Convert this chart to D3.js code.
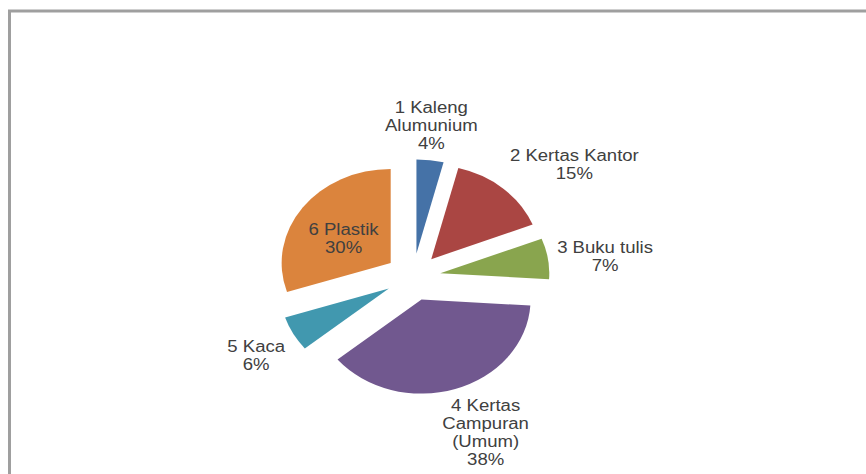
<!DOCTYPE html>
<html>
<head>
<meta charset="utf-8">
<script src="https://cdn.jsdelivr.net/npm/d3@7"></script>
<style>
  body { margin: 0; background: #fff; }
</style>
</head>
<body>
<svg id="chart" width="866" height="474"></svg>
<script>
// Data
const categoryLines = [
    ['1 Kaleng', 'Alumunium'],
    ['2 Kertas Kantor'],
    ['3 Buku tulis'],
    ['4 Kertas', 'Campuran', '(Umum)'],
    ['5 Kaca'],
    ['6 Plastik']
];
const values = [4, 15, 7, 38, 6, 30];
const colors = ['#4572A7', '#AA4643', '#89A54E', '#71588F', '#4198AF', '#DB843D'];
const labelInside = [false, false, false, false, false, true];

const svg = d3.select('#chart');
const width = 866, height = 474;

// Chart frame
svg.append('rect')
    .attr('x', 9.5)
    .attr('y', 11)
    .attr('width', width + 20)
    .attr('height', height + 20)
    .attr('fill', '#fff')
    .attr('stroke', '#9f9f9f')
    .attr('stroke-width', 3);

const cx = 413, cy = 277;
const radius = 94;
const explode = 0.253 * radius;
const stretch = 1.16; // the picture is a bit wider than tall
const lineHeight = 18;

const pie = d3.pie().sort(null).value(d => d);
const arcs = pie(values);
const arc = d3.arc().innerRadius(0).outerRadius(radius);
const mid = d => (d.startAngle + d.endAngle) / 2;

const g = svg.append('g').attr('transform', `translate(${cx},${cy}) scale(${stretch},1)`);

g.selectAll('path')
    .data(arcs)
    .join('path')
    .attr('transform', d => `translate(${Math.sin(mid(d)) * explode},${-Math.cos(mid(d)) * explode})`)
    .attr('d', arc)
    .attr('fill', (d, i) => colors[i]);

// Data labels
const fmt = d3.format('.0%');
const total = d3.sum(values);
// how far a label box is pushed off its anchor point, by direction
const push = v => Math.sign(v) * Math.max(0, Math.min(1, (Math.abs(v) - 0.15) * 4));

arcs.forEach((d, i) => {
    const lines = categoryLines[i].concat([fmt(values[i] / total)]);
    const lg = svg.append('g');
    const text = lg.append('text')
        .attr('text-anchor', 'middle')
        .attr('font-family', 'Liberation Sans, Arial, sans-serif')
        .attr('font-size', '16px')
        .attr('fill', '#404040');
    const h = lines.length * lineHeight;
    lines.forEach((line, j) => {
        text.append('tspan')
            .attr('x', 0)
            .attr('y', -h / 2 + lineHeight * j + lineHeight / 2)
            .attr('dy', '0.35em')
            .text(line);
    });
    const w = text.node().getBBox().width * stretch;
    const a = mid(d);
    const sx = Math.sin(a), sy = -Math.cos(a);
    let x, y;
    if (labelInside[i]) {
        const dist = explode + 0.5 * radius;
        x = cx + sx * dist * stretch - 3;
        y = cy + sy * dist + 3;
    } else {
        const dist = explode + radius + 8;
        x = cx + sx * dist * stretch + (w / 2) * push(sx);
        y = cy + sy * dist + (h / 2) * push(sy);
    }
    lg.attr('transform', `translate(${x},${y}) scale(${stretch},1)`);
});
</script>
</body>
</html>
